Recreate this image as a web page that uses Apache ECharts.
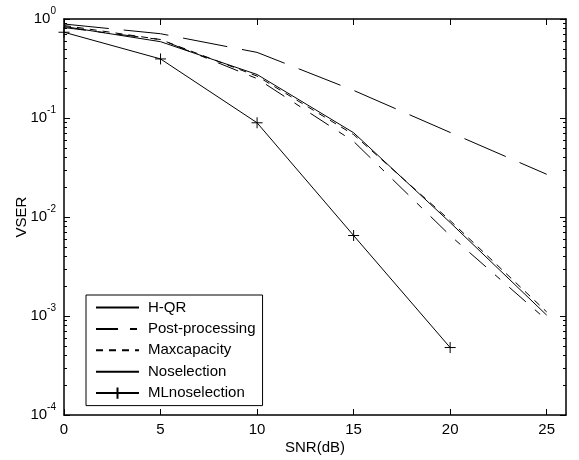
<!DOCTYPE html>
<html>
<head>
<meta charset="utf-8">
<script src="https://cdn.jsdelivr.net/npm/echarts@6/dist/echarts.min.js"></script>
<style>
html,body{margin:0;padding:0;background:#fff;}
#c{width:579px;height:460px;}
</style>
</head>
<body>
<div id="c"></div>
<script>
// ---- data ----
var snr = [0, 5, 10, 15, 20, 25];
var snrML = [0, 5, 10, 15, 20];
var hqr = [0.84, 0.59, 0.275, 0.071, 0.0088, 0.00102];
var postProcessing = [0.82, 0.62, 0.25, 0.058, 0.0065, 0.00091];
var maxcapacity = [0.86, 0.62, 0.265, 0.068, 0.0092, 0.0011];
var noselection = [0.89, 0.71, 0.46, 0.19, 0.0715, 0.027];
var mlNoselection = [0.735, 0.395, 0.0895, 0.0065, 0.00048];
var xTicks = [0, 5, 10, 15, 20, 25];
var yDecades = [1e-4, 1e-3, 1e-2, 1e-1, 1];
var yMinor = [];
for (var d = -4; d < 0; d++) {
  for (var k = 2; k <= 9; k++) yMinor.push(k * Math.pow(10, d));
}
var legendNames = ['H-QR', 'Post-processing', 'Maxcapacity', 'Noselection', 'MLnoselection'];

function pairs(xs, ys) { return xs.map(function (x, i) { return [x, ys[i]]; }); }

var FONT = 'Liberation Sans, Arial, Helvetica, sans-serif';
var black = '#000';
var plus = 'path://M0,5L10,5M5,0L5,10';

function xAx(pos, showLabel) {
  return {
    type: 'value', position: pos, min: 0, max: 26,
    axisLine: { show: true, onZero: false, lineStyle: { color: black, width: 1.5 } },
    axisTick: { show: true, inside: true, length: 6, customValues: xTicks, lineStyle: { color: black, width: 1 } },
    axisLabel: { show: showLabel, customValues: xTicks, margin: 7, color: black, fontSize: 15, fontFamily: FONT },
    splitLine: { show: false }
  };
}
function yAx(pos, showLabel, minor) {
  return {
    type: 'log', logBase: 10, position: pos, min: 1e-4, max: 1,
    axisLine: { show: !minor, onZero: false, lineStyle: { color: black, width: 1.5 } },
    axisTick: { show: true, inside: true, length: minor ? 3 : 6, customValues: minor ? yMinor : yDecades, lineStyle: { color: black, width: 1 } },
    axisLabel: {
      show: showLabel, customValues: yDecades, margin: 8, color: black,
      formatter: function (v) { return '{b|10}{e|' + Math.round(Math.log10(v)) + '}'; },
      rich: {
        b: { fontSize: 15, fontFamily: FONT, color: black },
        e: { fontSize: 10, fontFamily: FONT, color: black, padding: [0, 0, 16, 0] }
      }
    },
    splitLine: { show: false }
  };
}

var xAxes = [xAx('bottom', true), xAx('top', false)];
xAxes[0].name = 'SNR(dB)';
xAxes[0].nameLocation = 'middle';
xAxes[0].nameGap = 25;
xAxes[0].nameMoveOverlap = false;
xAxes[0].nameTextStyle = { fontSize: 15, fontFamily: FONT, color: black };

var yAxes = [yAx('left', true, false), yAx('left', false, true), yAx('right', false, false), yAx('right', false, true)];
yAxes[0].name = 'VSER';
yAxes[0].nameLocation = 'middle';
yAxes[0].nameGap = 35;
yAxes[0].nameMoveOverlap = false;
yAxes[0].nameTextStyle = { fontSize: 15, fontFamily: FONT, color: black };

function line(name, xs, ys, type, extra) {
  var s = {
    name: name, type: 'line', data: pairs(xs, ys),
    xAxisIndex: 0, yAxisIndex: 0,
    symbol: 'none', showSymbol: false,
    lineStyle: { color: black, width: 1, type: type },
    itemStyle: { color: black },
    emphasis: { disabled: true },
    silent: true
  };
  if (extra) for (var key in extra) s[key] = extra[key];
  return s;
}

var series = [
  line(legendNames[0], snr, hqr, 'solid'),
  line(legendNames[1], snr, postProcessing, [22, 12, 7, 12]),
  line(legendNames[2], snr, maxcapacity, [7, 6]),
  line(legendNames[3], snr, noselection, [45, 15]),
  line(legendNames[4], snrML, mlNoselection, 'solid', {
    symbol: plus, showSymbol: true, symbolSize: 11,
    itemStyle: { color: black, borderColor: black, borderWidth: 1 }
  })
];

var legendData = legendNames.map(function (n, i) {
  if (i < 4) return { name: n, itemStyle: { opacity: 0 } };
  return { name: n };
});

var chart = echarts.init(document.getElementById('c'), null, { renderer: 'canvas' });
chart.setOption({
  animation: false,
  backgroundColor: '#fff',
  grid: { left: 64, right: 13, top: 19, bottom: 43, show: false },
  xAxis: xAxes,
  yAxis: yAxes,
  legend: {
    orient: 'vertical', left: 86, top: 295,
    data: legendData,
    itemWidth: 43, itemHeight: 14, itemGap: 6.4,
    padding: [5, 7, 5, 9],
    borderColor: black, borderWidth: 1, backgroundColor: '#fff',
    textStyle: { fontSize: 15, fontFamily: FONT, color: black, padding: [0, 0, 0, 4] },
    selectedMode: false
  },
  series: series
});
</script>
</body>
</html>
